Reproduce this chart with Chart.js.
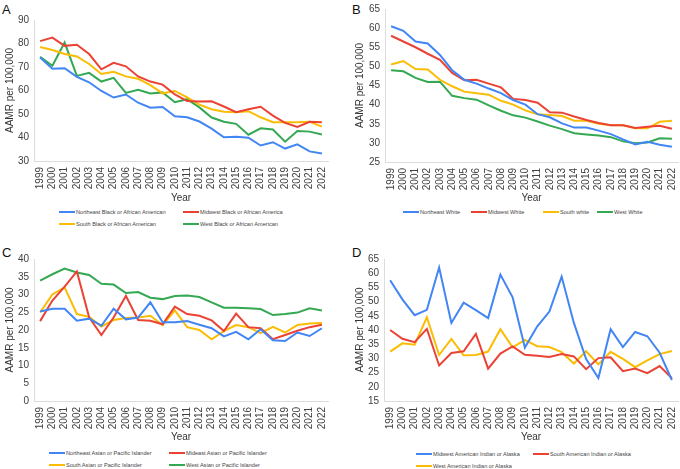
<!DOCTYPE html>
<html>
<head>
<meta charset="utf-8">
<script src="https://cdn.jsdelivr.net/npm/chart.js@4.4.1/dist/chart.umd.min.js"></script>
<style>
  body { margin: 0; width: 680px; height: 469px; position: relative; background: #fff; overflow: hidden;
         font-family: 'Liberation Sans', Arial, sans-serif; }
  canvas { position: absolute; }
  .letter { position: absolute; font-size: 13px; line-height: 1; color: #111; }
  .legend { position: absolute; display: grid; grid-auto-rows: 12px; font-size: 5.6px; color: #444; }
  .legend div { display: flex; align-items: center; white-space: nowrap; }
  .legend i { display: inline-block; width: 16px; height: 2px; margin-right: 1px; }
</style>
</head>
<body>
<div class="letter" style="left:2px;top:3px">A</div>
<div class="letter" style="left:352px;top:3px">B</div>
<div class="letter" style="left:2px;top:246px">C</div>
<div class="letter" style="left:352px;top:246px">D</div>

<canvas id="chartA" width="340" height="205" style="left:0;top:0"></canvas>
<canvas id="chartB" width="340" height="205" style="left:340px;top:0"></canvas>
<canvas id="chartC" width="340" height="209" style="left:0;top:235px"></canvas>
<canvas id="chartD" width="340" height="209" style="left:340px;top:235px"></canvas>

<div class="legend" id="legA" style="left:59px;top:206px;grid-template-columns:124px auto"></div>
<div class="legend" id="legB" style="left:403px;top:206px;grid-template-columns:68px 72px 54px auto"></div>
<div class="legend" id="legC" style="left:49px;top:447px;grid-template-columns:120px auto"></div>
<div class="legend" id="legD" style="left:416px;top:448px;grid-template-columns:117px auto"></div>

<script>
'use strict'

const years = ['1999', '2000', '2001', '2002', '2003', '2004', '2005', '2006', '2007', '2008', '2009', '2010',
  '2011', '2012', '2013', '2014', '2015', '2016', '2017', '2018', '2019', '2020', '2021', '2022']

// A - Black or African American
const blackNE = [74, 69.3, 69.5, 65.8, 63.5, 59.8, 57, 58.3, 54.8, 52.7, 53, 49, 48.6, 46.8, 43.8, 40.1, 40.3, 39.9, 36.6, 38, 35.3, 37.1, 34.1, 33.2]
const blackMW = [81, 82.5, 79, 79.5, 75.5, 69, 71.8, 70.3, 66, 63.8, 62.5, 58.3, 55.5, 55.3, 55.4, 53.2, 50.8, 52, 53.1, 49.3, 46.2, 44.5, 46.7, 46.5]
const blackS = [78.5, 77.2, 75.5, 74.5, 71.3, 67, 68, 66, 65, 62.3, 58.8, 59.8, 57.1, 54, 52, 51, 50.7, 51.2, 48.6, 46.5, 46.5, 46.5, 46.7, 44.6]
const blackW = [74.3, 70.5, 80.4, 66.2, 67.5, 63.8, 65.4, 59, 60.3, 58.7, 59.2, 55, 56.3, 52.8, 48.5, 46.7, 45.8, 41.2, 43.9, 43.4, 38.2, 42.8, 42.5, 41.3]

// B - White
const whiteNE = [60.5, 59.3, 56.5, 56, 53, 49, 46.5, 45.5, 44.2, 43, 41.2, 40, 37.5, 36.7, 35.1, 34, 34, 33.2, 32.3, 30.9, 29.6, 30.3, 29.5, 29]
const whiteMW = [58, 56.5, 55, 53.3, 51.7, 48.3, 46.4, 46.5, 45.5, 44.5, 41.5, 41.2, 40.5, 38, 37.9, 36.9, 36, 35.2, 34.6, 34.6, 33.9, 34.2, 34.5, 33.7]
const whiteS = [50.5, 51.4, 49.3, 49.2, 46.5, 44.8, 43.4, 43, 42.6, 41, 40, 38.5, 37.5, 37.3, 37, 35.8, 35.8, 35, 34.6, 34.6, 33.8, 33.8, 35.5, 35.8]
const whiteW = [49, 48.7, 47, 45.9, 46, 42.3, 41.7, 41.3, 39.8, 38.4, 37.2, 36.6, 35.6, 34.5, 33.6, 32.5, 32.2, 31.9, 31.5, 30.4, 29.9, 30.1, 31.2, 31.1]

// C - Asian or Pacific Islander
const asianNE = [25.2, 26, 26, 22.6, 23.2, 21.2, 26, 23, 23.5, 27.8, 22.2, 22.2, 22.5, 21.5, 20.5, 18.2, 19.5, 17.4, 20.2, 17.1, 16.9, 19.3, 18.3, 20.5]
const asianMW = [22.5, 28.3, 32.2, 36.5, 23.6, 18.6, 23.5, 29.6, 22.8, 22.6, 21.6, 26.6, 24.5, 24, 22.7, 19.7, 24.6, 20.8, 20.5, 17.4, 18.6, 19.8, 20.8, 21.5]
const asianS = [25, 30, 32, 24.5, 23.7, 21, 22.8, 23.4, 23.5, 24, 21.4, 25.5, 20.8, 20, 17.4, 19.7, 21.4, 20.8, 19.1, 20.9, 19.3, 21.4, 21.8, 22]
const asianW = [33.9, 35.7, 37.3, 36.2, 35.5, 33, 32.8, 30.4, 30.7, 29.1, 28.7, 29.6, 29.7, 29.3, 27.8, 26.3, 26.3, 26.1, 25.9, 24.2, 24.5, 24.9, 26.1, 25.5]

// D - American Indian or Alaska
const aianMW = [57.5, 50.8, 45.2, 47.1, 62, 42.5, 49.6, 47, 44.2, 59.5, 51.5, 33.8, 41.2, 46.5, 58.8, 42.5, 29.8, 23.1, 40.3, 34, 39.3, 37.8, 32, 22.4]
const aianS = [40, 36.9, 35.7, 40.4, 27.5, 31.9, 32.5, 38.6, 26.4, 31.7, 34.2, 31.3, 30.9, 30.5, 31.5, 30.7, 26.2, 30.1, 30.4, 25.5, 26.4, 24.8, 27.3, 23]
const aianW = [32.4, 35.3, 34.8, 44.5, 31.2, 36.9, 31.1, 31.2, 32.4, 40.3, 33.9, 36.5, 34.3, 34, 32.2, 28.2, 32.5, 27.9, 32.3, 29.8, 26.9, 29.3, 31.5, 32.6]

const BLUE = '#4285F4'
const RED = '#EA4335'
const YELLOW = '#FBBC04'
const GREEN = '#34A853'

const tickFont = {
  color: '#404040',
  font: { family: "'Liberation Sans', Arial, sans-serif", size: 10 }
}
const titleFont = {
  color: '#333333',
  font: { family: "'Liberation Sans', Arial, sans-serif", size: 10 }
}

function initChart(id, series, o) {
  return new Chart(document.getElementById(id), {
    type: 'line',
    data: {
      labels: years,
      datasets: series.map((s) => ({
        label: s.label,
        data: s.data,
        borderColor: s.color,
        backgroundColor: s.color,
        borderWidth: 2,
        pointRadius: 0,
        tension: 0,
        fill: false
      }))
    },
    options: {
      responsive: false,
      animation: false,
      layout: { padding: { top: o.top, left: o.left, right: o.right, bottom: 0 } },
      plugins: { legend: { display: false }, tooltip: { enabled: false } },
      scales: {
        x: {
          offset: true,
          grid: { display: false, drawTicks: false },
          border: { color: '#dcdcdc' },
          ticks: { ...tickFont, autoSkip: false, maxRotation: 90, minRotation: 90, padding: 6 },
          title: { display: true, text: 'Year', ...titleFont, padding: { top: 0, bottom: 1 } },
          afterFit(s) {
            s.height = o.xh
            s.paddingLeft = 0
            s.paddingRight = 0
          }
        },
        y: {
          min: o.min,
          max: o.max,
          grid: { display: false, drawTicks: false },
          border: { color: '#dcdcdc' },
          ticks: { ...tickFont, stepSize: o.step, autoSkip: false, padding: 5 },
          title: { display: true, text: 'AAMR per 100,000', ...titleFont, padding: { top: 4, bottom: 0 } },
          afterFit(s) {
            s.width = o.yw
            s.paddingTop = 0
            s.paddingBottom = 0
          }
        }
      }
    }
  })
}

function buildLegend(id, series) {
  const el = document.getElementById(id)
  series.forEach((s) => {
    const item = document.createElement('div')
    item.innerHTML = '<i style="background:' + s.color + '"></i>' + s.label
    el.appendChild(item)
  })
}

const seriesA = [
  { label: 'Northeast Black or African American', data: blackNE, color: BLUE },
  { label: 'Midwest Black or African America', data: blackMW, color: RED },
  { label: 'South Black or African American', data: blackS, color: YELLOW },
  { label: 'West Black or African American', data: blackW, color: GREEN }
]
const seriesB = [
  { label: 'Northeast White', data: whiteNE, color: BLUE },
  { label: 'Midwest White', data: whiteMW, color: RED },
  { label: 'South white', data: whiteS, color: YELLOW },
  { label: 'West White', data: whiteW, color: GREEN }
]
const seriesC = [
  { label: 'Northeast Asian or Pacific Islander', data: asianNE, color: BLUE },
  { label: 'Mideast Asian or Pacific Islander', data: asianMW, color: RED },
  { label: 'South Asian or Pacific Islander', data: asianS, color: YELLOW },
  { label: 'West Asian or Pacific Islander', data: asianW, color: GREEN }
]
const seriesD = [
  { label: 'Midwest American Indian or Alaska', data: aianMW, color: BLUE },
  { label: 'South American Indian or Alaska', data: aianS, color: RED },
  { label: 'West American Indian or Alaska', data: aianW, color: YELLOW }
]

initChart('chartA', seriesA, { top: 20, left: 0, right: 12, yw: 34, xh: 44, min: 30, max: 90, step: 10 })
initChart('chartB', seriesB, { top: 9, left: 10, right: 2, yw: 35, xh: 43, min: 25, max: 65, step: 5 })
initChart('chartC', seriesC, { top: 24, left: 0, right: 12, yw: 34, xh: 43, min: 0, max: 40, step: 5 })
initChart('chartD', seriesD, { top: 24, left: 10, right: 2, yw: 34, xh: 43, min: 15, max: 65, step: 5 })

buildLegend('legA', seriesA)
buildLegend('legB', seriesB)
buildLegend('legC', seriesC)
buildLegend('legD', seriesD)
</script>
</body>
</html>
